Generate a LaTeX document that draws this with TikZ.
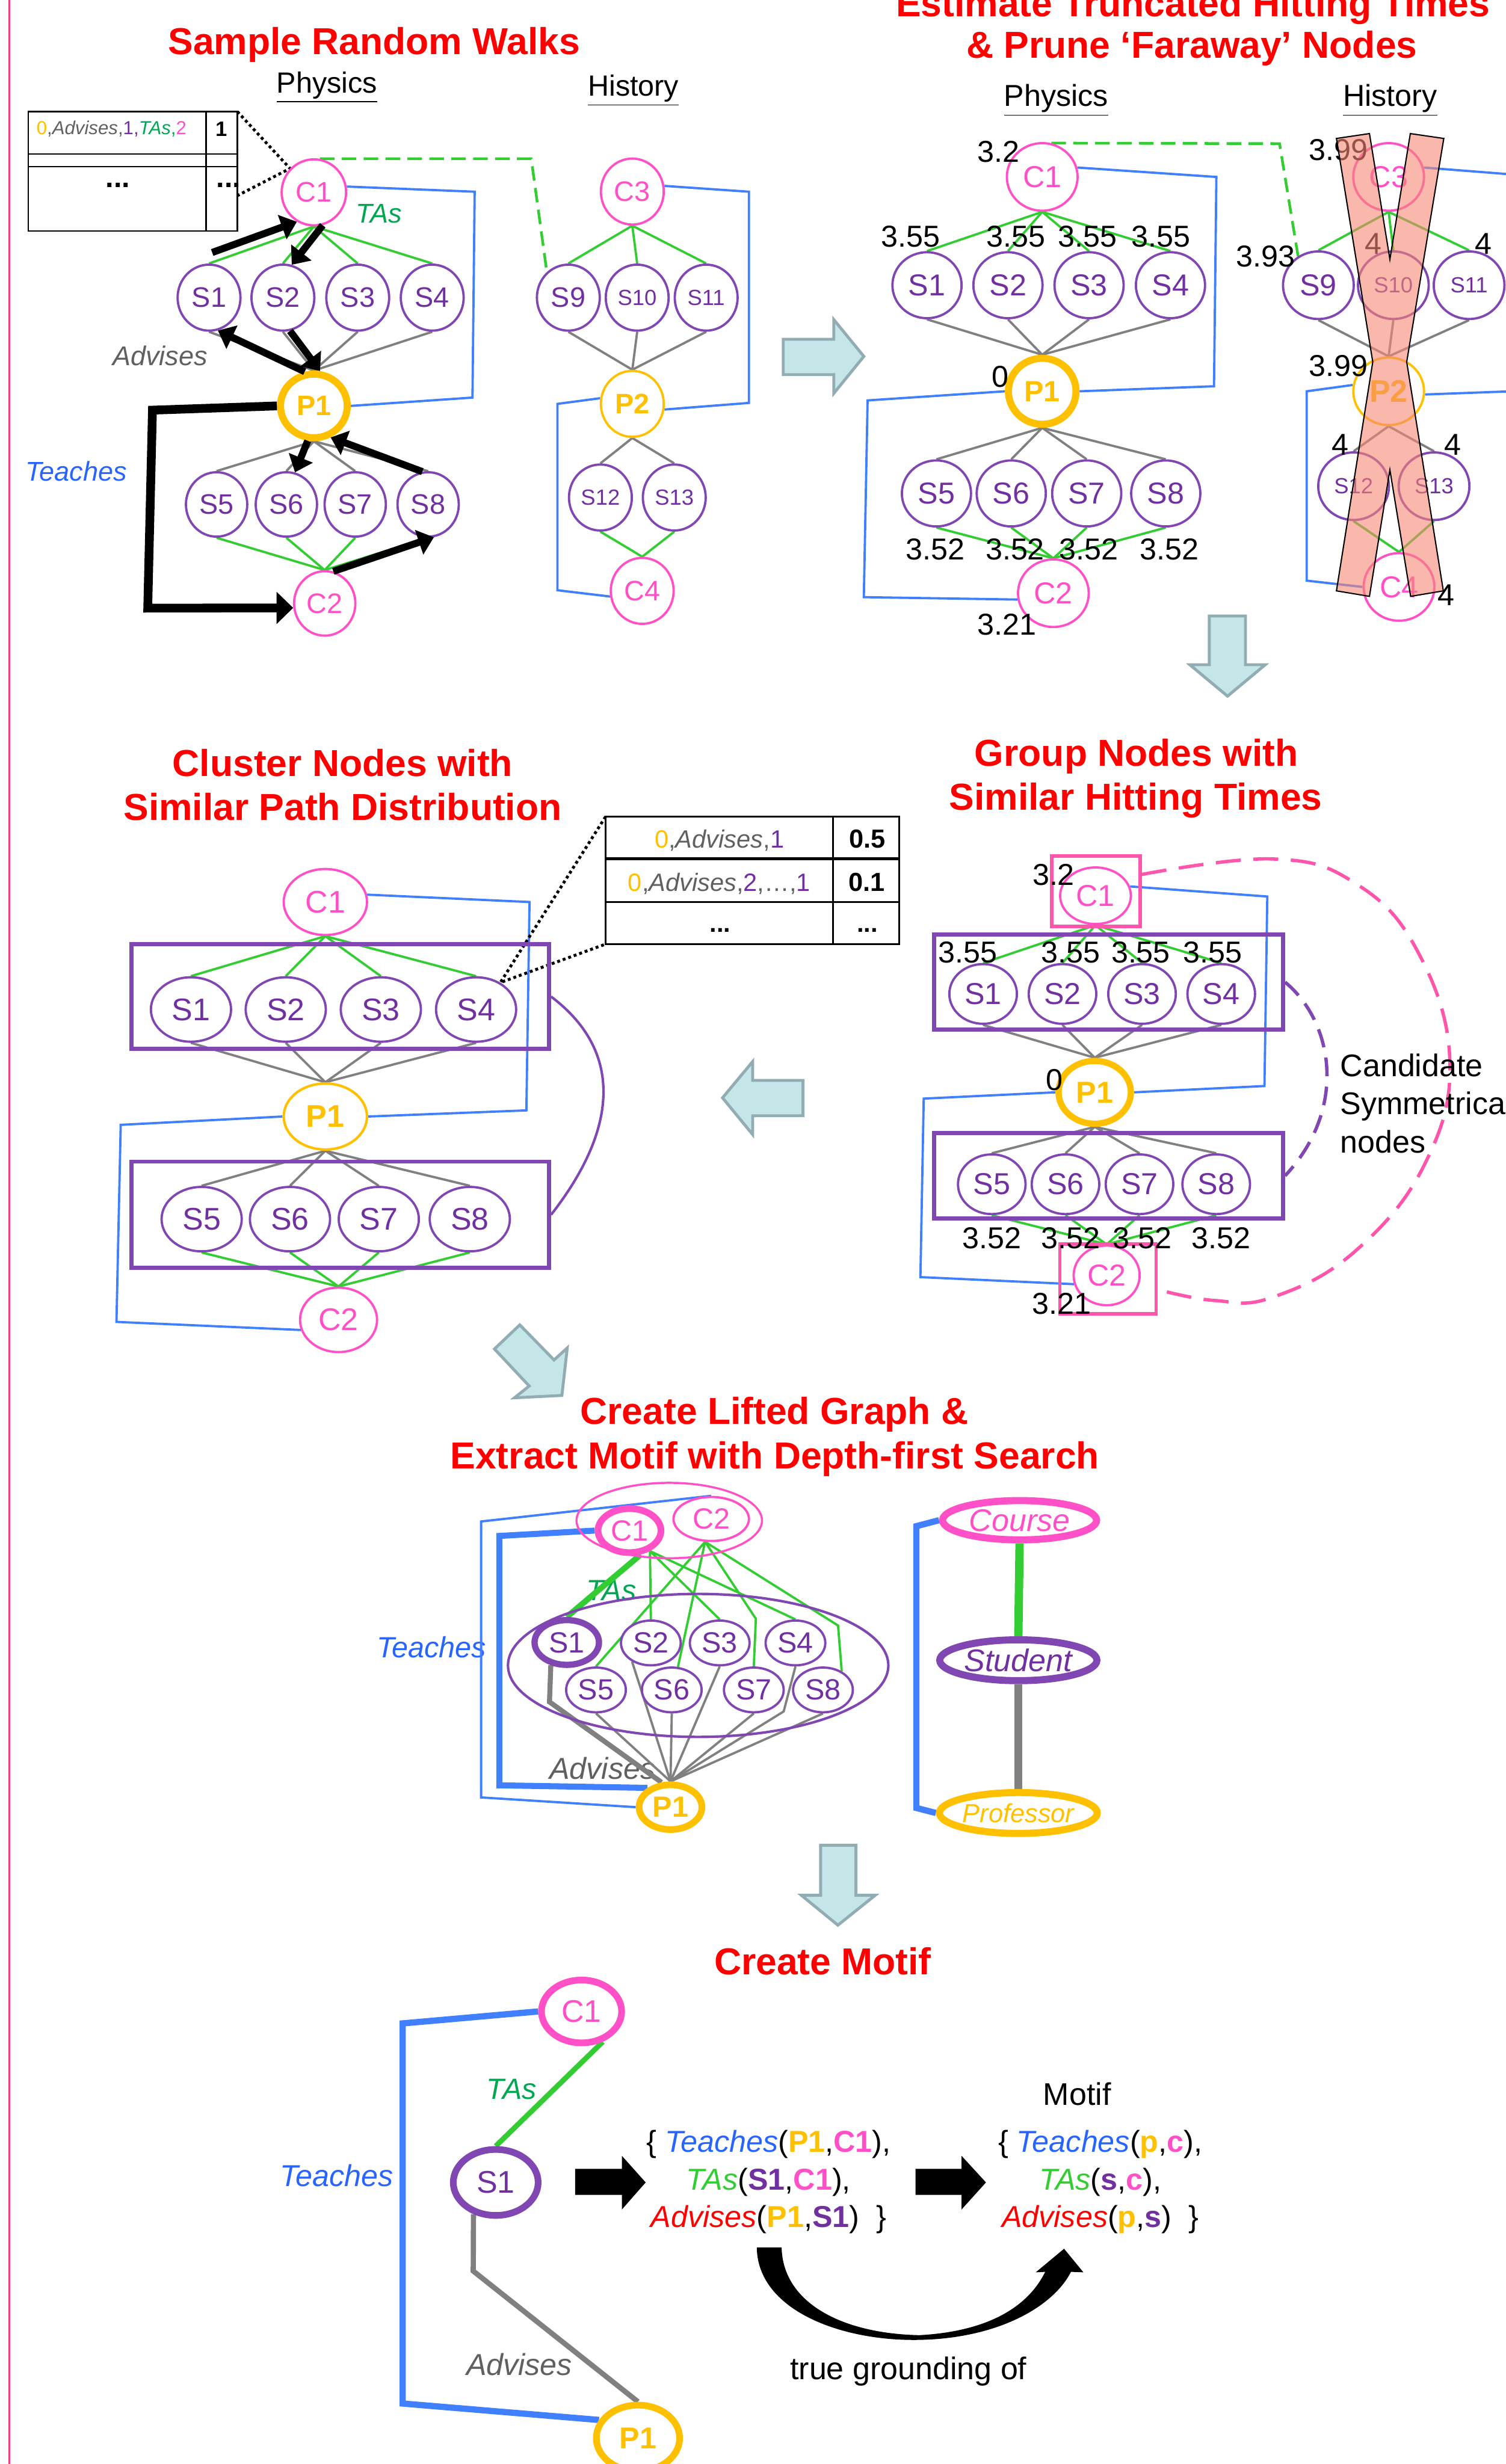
\documentclass[tikz,border=0pt]{standalone}
\usepackage{fontspec}
\setmainfont{Liberation Sans}
\usepackage{xcolor}
\usepackage{tikz}
\usetikzlibrary{
  positioning,
  arrows.meta,
  shapes.geometric,
  calc,
  backgrounds
}

\definecolor{pinkC}{RGB}{255,80,200}
\definecolor{pinkB}{RGB}{255,85,170}
\definecolor{purpC}{RGB}{128,70,178}
\definecolor{purpT}{RGB}{112,48,160}
\definecolor{yelC}{RGB}{255,192,0}
\definecolor{grnC}{RGB}{51,204,51}
\definecolor{grnT}{RGB}{0,166,81}
\definecolor{grayC}{RGB}{128,128,128}
\definecolor{grayT}{RGB}{96,96,96}
\definecolor{bluC}{RGB}{64,128,255}
\definecolor{bluT}{RGB}{40,100,255}
\definecolor{redT}{RGB}{255,0,0}
\definecolor{arrF}{RGB}{197,230,232}
\definecolor{arrD}{RGB}{145,172,178}
\definecolor{salmonC}{RGB}{247,135,115}
\definecolor{edgeP}{RGB}{250,60,130}

\newcommand{\fsz}[1]{\fontsize{#1}{#1}\selectfont}

\tikzset{
  sz/.style 2 args={minimum width=#1*0.7534pt, minimum height=#2*0.7534pt},
  base node/.style={ellipse, fill=white, inner sep=0pt, line width=1.1pt},
  cnode/.style={base node, draw=pinkC, text=pinkC, font=\fsz{13.5}},
  snode/.style={base node, draw=purpC, text=purpT, font=\fsz{13.5}},
  pnode/.style={base node, draw=yelC, text=yelC, font=\fsz{13.5}\bfseries},
  tas/.style={draw=grnC, line width=1.1pt},
  adv/.style={draw=grayC, line width=1.1pt},
  tch/.style={draw=bluC, line width=1.1pt},
  ptitle/.style={text=redT, font=\fsz{18}\bfseries, anchor=base, inner sep=0pt},
  subhead/.style={font=\fsz{14}, anchor=base, inner sep=0pt},
  hit/.style={font=\fsz{14.5}, inner sep=0pt},
  rel/.style={font=\fsz{13}\itshape, inner sep=0pt},
  walk/.style={line width=3.4pt, -{Triangle[length=7.5pt, width=12pt]}},
  blockarr/.style={fill=arrF, draw=arrD, line width=1.4pt, line join=miter},
  groupbox/.style={draw=purpC, line width=2pt, inner sep=0pt},
  pinkbox/.style={draw=pinkB, line width=1.6pt, inner sep=0pt},
  zoomline/.style={line width=1.4pt, dash pattern=on 1.4pt off 1.4pt},
}

\begin{document}
\begin{tikzpicture}[x=0.2648mm, y=-0.2648mm, >=Stealth]
    \useasboundingbox (0,0) rectangle (958,1568);
    \draw[edgeP, line width=0.8pt] (6,0) -- (6,1568);

    % ===== 1. Sample Random Walks =====
    \node[ptitle] (wTitle) at (238,34.5) {Sample Random Walks};
    \node[subhead] (wPhys) at (208,59) {\underline{Physics}};
    \node[subhead] (wHist) at (403,61) {\underline{History}};

    \node[cnode, sz={41}{42}] (wC1) at (199.7,122.4) {C1};
    \foreach \n/\x in {1/133,2/180,3/227.6,4/275}
        \node[snode, sz={40}{42}] (wS\n) at (\x,189.4) {S\n};
    \node[pnode, line width=3.4pt, sz={42.5}{40.5}] (wP1) at (199.7,258.3) {P1};
    \foreach \n/\x in {5/137.8,6/182.2,7/226,8/272.4}
        \node[snode, sz={39}{41}] (wS\n) at (\x,321) {S\n};
    \node[cnode, sz={39}{41}] (wC2) at (206.6,384) {C2};

    \node[cnode, sz={40}{42}] (wC3) at (402.3,121.9) {C3};
    \foreach \n/\x/\f in {9/361.6/13.5,10/405.4/10.5,11/449.3/10.5}
        \node[snode, sz={40}{42}, font=\fsz{\f}] (wS\n) at (\x,189.4) {S\n};
    \node[pnode, sz={40}{42}] (wP2) at (402.3,257) {P2};
    \foreach \n/\x in {12/382,13/429}
        \node[snode, sz={40}{42}, font=\fsz{10.5}] (wS\n) at (\x,316.6) {S\n};
    \node[cnode, sz={40}{42}] (wC4) at (408.6,376) {C4};

    % 路径表
    \draw[line width=0.8pt] (18,71) rectangle (151,147);
    \draw[line width=0.8pt] (131,71) -- (131,147) (18,98) -- (151,98) (18,106) -- (151,106);
    \node[anchor=west, inner sep=0pt, font=\fsz{9}] (wRow) at (23,82)
        {\textcolor{yelC}{0}\textcolor{grayT}{,\textit{Advises},}\textcolor{purpT}{1,}\textcolor{grnT}{\textit{TAs},}\textcolor{pinkC}{2}};
    \node[inner sep=0pt, font=\fsz{10}\bfseries] (wProb) at (141,82) {1};
    \node[inner sep=0pt, font=\fsz{14}\bfseries] (wDotsA) at (75,118) {...};
    \node[inner sep=0pt, font=\fsz{14}\bfseries] (wDotsB) at (145.5,118) {...};
    \coordinate (wTabNE) at (151,71);
    \coordinate (wTabE) at (151,124.5);

    % ===== 2. Hitting Times =====
    \node[ptitle] (hTitleA) at (759,10.6) {Estimate Truncated Hitting Times};
    \node[ptitle] (hTitleB) at (758.3,37) {\& Prune ‘Faraway’ Nodes};
    \node[subhead, font=\fsz{14.5}] (hPhys) at (672,67.5) {\underline{Physics}};
    \node[subhead, font=\fsz{14.5}] (hHist) at (884.5,67.5) {\underline{History}};

    \node[cnode, sz={45}{43}, font=\fsz{14.5}] (hC1) at (663.1,112.6) {C1};
    \foreach \n/\x in {1/589.8,2/641.3,3/692.9,4/744.7}
        \node[snode, sz={44}{42}, font=\fsz{14.5}] (hS\n) at (\x,181.5) {S\n};
    \node[pnode, line width=3.4pt, sz={43}{42}, font=\fsz{14}\bfseries] (hP1) at (663.1,249) {P1};
    \foreach \n/\x in {5/595.8,6/643.4,7/691.4,8/741.7}
        \node[snode, sz={44}{42}, font=\fsz{14.5}] (hS\n) at (\x,314) {S\n};
    \node[cnode, sz={45}{43}, font=\fsz{14.5}] (hC2) at (670.2,377.5) {C2};

    \node[cnode, sz={45}{43}, font=\fsz{14.5}] (hC3) at (883.5,112.6) {C3};
    \node[snode, sz={45}{43}, font=\fsz{14.5}] (hS9) at (838.8,181.5) {S9};
    \node[snode, sz={45}{43}, font=\fsz{10.5}] (hS10) at (886.5,181.5) {S10};
    \node[snode, sz={45}{43}, font=\fsz{10.5}] (hS11) at (934.7,181.5) {S11};
    \node[pnode, sz={45}{43}, font=\fsz{15}\bfseries] (hP2) at (883.5,249) {P2};
    \node[snode, sz={45}{43}, font=\fsz{10.5}] (hS12) at (861.2,309.4) {S12};
    \node[snode, sz={45}{43}, font=\fsz{10.5}] (hS13) at (912.4,309.4) {S13};
    \node[cnode, sz={45}{43}, font=\fsz{14.5}] (hC4) at (890.1,373.5) {C4};

    % ===== 3. Cluster Nodes =====
    \node[ptitle] (cTitleA) at (218,494) {Cluster Nodes with};
    \node[ptitle] (cTitleB) at (218,521.8) {Similar Path Distribution};

    \node[cnode, sz={53}{42}, font=\fsz{15}] (cC1) at (207,574) {C1};
    \foreach \n/\x in {1/121.5,2/181.8,3/242.3,4/302.9}
        \node[snode, sz={51}{41}, font=\fsz{15}] (cS\n) at (\x,642.4) {S\n};
    \node[pnode, line width=1.2pt, sz={53}{42}, font=\fsz{15}\bfseries] (cP1) at (207,710.5) {P1};
    \foreach \n/\x in {5/128.3,6/184.5,7/241,8/298.9}
        \node[snode, sz={51}{41}, font=\fsz{15}] (cS\n) at (\x,775.8) {S\n};
    \node[cnode, sz={49}{41}, font=\fsz{15}] (cC2) at (215.4,839.9) {C2};
    \node[groupbox, sz={265.8}{66.8}] (cBoxA) at (216.4,634.2) {};
    \node[groupbox, sz={265.8}{67.6}] (cBoxB) at (216.4,773) {};
    \draw[purpC, line width=1.2pt] (cBoxA.east) .. controls (398,670) and (392,720) .. (cBoxB.east);

    % 路径分布表
    \draw[line width=0.9pt] (385.3,519.7) rectangle (572.1,600.8);
    \draw[line width=0.9pt] (530,519.7) -- (530,600.8) (385.3,574) -- (572.1,574);
    \draw[line width=1.6pt] (385.3,546.4) -- (572.1,546.4);
    \node[anchor=base, inner sep=0pt, font=\fsz{12}] (cRowA) at (457.7,539.5)
        {\textcolor{yelC}{0}\textcolor{grayT}{,\textit{Advises},}\textcolor{purpT}{1}};
    \node[anchor=base, inner sep=0pt, font=\fsz{12}] (cRowB) at (457.6,567.2)
        {\textcolor{yelC}{0}\textcolor{grayT}{,\textit{Advises},}\textcolor{purpT}{2}\textcolor{grayT}{,\ldots,}\textcolor{purpT}{1}};
    \node[anchor=base, inner sep=0pt, font=\fsz{12.5}\bfseries] (cProbA) at (551.9,539.5) {0.5};
    \node[anchor=base, inner sep=0pt, font=\fsz{12.5}\bfseries] (cProbB) at (551.3,567.2) {0.1};
    \node[inner sep=0pt, font=\fsz{12}\bfseries] (cDotsA) at (458.3,592) {...};
    \node[inner sep=0pt, font=\fsz{12}\bfseries] (cDotsB) at (551.9,592) {...};
    \coordinate (cTabNW) at (385.3,519.7);
    \coordinate (cTabSW) at (385.3,600.8);

    % ===== 4. Group Nodes =====
    \node[ptitle] (gTitleA) at (723,487.5) {Group Nodes with};
    \node[ptitle] (gTitleB) at (722.6,515.5) {Similar Hitting Times};

    \node[cnode, sz={45}{36}, font=\fsz{14.5}] (gC1) at (697,570) {C1};
    \foreach \n/\x in {1/625.5,2/676,3/726.6,4/777}
        \node[snode, sz={43}{38}, font=\fsz{14.5}] (gS\n) at (\x,632.5) {S\n};
    \node[pnode, line width=3pt, sz={46}{40}, font=\fsz{14.5}\bfseries] (gP1) at (696.5,695.1) {P1};
    \foreach \n/\x in {5/631,6/677.9,7/725,8/773.8}
        \node[snode, sz={43}{38}, font=\fsz{14.5}] (gS\n) at (\x,753.6) {S\n};
    \node[cnode, sz={42}{38}, font=\fsz{14.5}] (gC2) at (704.1,811.6) {C2};
    \node[pinkbox, sz={56.3}{44.8}] (gBoxC1) at (697.2,567.1) {};
    \node[pinkbox, sz={61.3}{44.4}] (gBoxC2) at (704.9,813.9) {};
    \node[groupbox, sz={222}{60.4}] (gBoxA) at (705.3,625) {};
    \node[groupbox, sz={222}{54.5}] (gBoxB) at (705.3,748.2) {};
    \draw[pinkB, line width=1.6pt, dash pattern=on 12pt off 6pt]
        plot[smooth, tension=0.7] coordinates {(gBoxC1.20) (809.7,546.6) (862.2,562) (901.5,604.6) (922.4,673.8) (906.7,740.3) (862.2,796.2) (809.7,825.5) (773,827.6) (gBoxC2.-12)};
    \draw[purpC, line width=1.6pt, dash pattern=on 9pt off 5pt]
        (gBoxA.east) .. controls (848,650) and (858,705) .. (gBoxB.east);
    \node[anchor=west, align=left, inner sep=0pt, font=\fontsize{15}{18.4}\selectfont] (gCand) at (852.5,702.2)
        {Candidate\\Symmetrical\\nodes};

    % ===== 5. Lifted Graph =====
    \node[ptitle] (lTitleA) at (492.7,906.4) {Create Lifted Graph \&};
    \node[ptitle] (lTitleB) at (493,934.5) {Extract Motif with Depth-first Search};

    \node[draw=pinkC, line width=1pt, ellipse, sz={118}{48}] (lCgrp) at (425.8,967.6) {};
    \node[draw=purpC, line width=1.2pt, ellipse, sz={242}{91}] (lSgrp) at (444.2,1059.8) {};
    \node[cnode, sz={48}{28}, font=\fsz{14}] (lC2) at (452.5,966.6) {C2};
    \node[cnode, line width=3.2pt, sz={40}{28}, font=\fsz{14}] (lC1) at (400.5,974) {C1};
    \node[snode, line width=3pt, sz={41}{28.5}, font=\fsz{14}] (lS1) at (360.6,1045.2) {S1};
    \foreach \n/\x in {2/414.1,3/457.9,4/506.1}
        \node[snode, sz={38}{28.5}, font=\fsz{14}] (lS\n) at (\x,1045.5) {S\n};
    \foreach \n/\x in {5/379.2,6/427.4,7/479.6,8/523.6}
        \node[snode, sz={38}{28.5}, font=\fsz{14}] (lS\n) at (\x,1075.4) {S\n};
    \node[pnode, line width=3.2pt, sz={40}{28.5}, font=\fsz{14}\bfseries] (lP1) at (426.6,1150) {P1};

    \node[cnode, line width=3.4pt, sz={98}{25}, font=\fsz{15}\itshape] (lCourse) at (648.7,967.4) {Course};
    \node[snode, line width=3.4pt, sz={100}{26}, font=\fsz{15}\itshape] (lStudent) at (647.9,1056.5) {Student};
    \node[pnode, line width=3.4pt, sz={100}{26}, font=\fsz{12.5}\itshape] (lProf) at (647.9,1153.7) {Professor};

    % ===== 6. Create Motif =====
    \node[ptitle] (mTitle) at (523.5,1256.7) {Create Motif};
    \node[cnode, line width=3.2pt, sz={51}{40}, font=\fsz{15}] (mC1) at (370,1280) {C1};
    \node[snode, line width=3.2pt, sz={54}{42}, font=\fsz{15}] (mS1) at (315.4,1388.8) {S1};
    \node[pnode, line width=3.2pt, sz={53}{42}, font=\fsz{14.5}\bfseries] (mP1) at (405.9,1551.5) {P1};

    \node[align=center, inner sep=0pt, font=\fontsize{14.5}{18}\selectfont] (mGround) at (489,1388.5)
        {\{ \textcolor{bluT}{\textit{Teaches}}(\textcolor{yelC}{\textbf{P1}},\textcolor{pinkC}{\textbf{C1}}),\\
         \textcolor{grnC}{\textit{TAs}}(\textcolor{purpT}{\textbf{S1}},\textcolor{pinkC}{\textbf{C1}}),\\
         \textcolor{redT}{\textit{Advises}}(\textcolor{yelC}{\textbf{P1}},\textcolor{purpT}{\textbf{S1}})~~\}};
    \node[align=center, inner sep=0pt, font=\fontsize{14.5}{18}\selectfont] (mMotif) at (700,1388.5)
        {\{ \textcolor{bluT}{\textit{Teaches}}(\textcolor{yelC}{\textbf{p}},\textcolor{pinkC}{\textbf{c}}),\\
         \textcolor{grnC}{\textit{TAs}}(\textcolor{purpT}{\textbf{s}},\textcolor{pinkC}{\textbf{c}}),\\
         \textcolor{redT}{\textit{Advises}}(\textcolor{yelC}{\textbf{p}},\textcolor{purpT}{\textbf{s}})~~\}};
    \node[inner sep=0pt, font=\fsz{15}] (mMotifHd) at (685.3,1332.6) {Motif};
    \node[inner sep=0pt, font=\fsz{15}] (mTrue) at (578,1509) {true grounding of};

    % ===== 边 =====
    \begin{pgfonlayer}{background}
        \node[rel, text=grnT] (wTAs) at (241,136) {TAs};
        \node[rel, text=grayT] (wAdv) at (101.8,226.5) {Advises};
        \node[rel, text=bluT] (wTch) at (48.5,300) {Teaches};
        \node[rel, text=grnT, font=\fsz{14}\itshape] (lTAs) at (389,1012) {TAs};
        \node[rel, text=bluT, font=\fsz{14}\itshape] (lTch) at (274.5,1048) {Teaches};
        \node[rel, text=grayT, font=\fsz{14.5}\itshape] (lAdv) at (383.3,1125.3) {Advises};
        \node[rel, text=grnT, font=\fsz{14}\itshape] (mTAs) at (325.5,1329.6) {TAs};
        \node[rel, text=bluT, font=\fsz{14.5}\itshape] (mTch) at (214.2,1384.5) {Teaches};
        \node[rel, text=grayT, font=\fsz{14.5}\itshape] (mAdv) at (330.4,1504.7) {Advises};

        % 面板一
        \foreach \n in {1,...,4} {\draw[tas] (wC1.south) -- (wS\n.north); \draw[adv] (wS\n.south) -- (wP1.north);}
        \foreach \n in {5,...,8} {\draw[adv] (wP1.south) -- (wS\n.north); \draw[tas] (wS\n.south) -- (wC2.north);}
        \foreach \n in {9,10,11} {\draw[tas] (wC3.south) -- (wS\n.north); \draw[adv] (wS\n.south) -- (wP2.north);}
        \foreach \n in {12,13} {\draw[adv] (wP2.south) -- (wS\n.north); \draw[tas] (wS\n.south) -- (wC4.north);}
        \draw[tch] (wC1.10) -- (302,122) -- (300.6,253) -- (wP1.east);
        \draw[tch] (wC3.10) -- (476.5,122) -- (476.5,256.4) -- (wP2.-10);
        \draw[tch] (wP2.170) -- (354.7,257) -- (354.7,375.6) -- (wC4.-170);
        \draw[tas, line width=1.3pt, dash pattern=on 7pt off 3.5pt] (wC1.80) -- (338,101) -- (wS9.130);
        \draw[zoomline] (wTabNE) -- (wC1.135) -- (wTabE);

        % 面板二
        \foreach \n in {1,...,4} {\draw[tas] (hC1.south) -- (hS\n.north); \draw[adv] (hS\n.south) -- (hP1.north);}
        \foreach \n in {5,...,8} {\draw[adv] (hP1.south) -- (hS\n.north); \draw[tas] (hS\n.south) -- (hC2.north);}
        \foreach \n in {9,10,11} {\draw[tas] (hC3.south) -- (hS\n.north); \draw[adv] (hS\n.south) -- (hP2.north);}
        \foreach \n in {12,13} {\draw[adv] (hP2.south) -- (hS\n.north); \draw[tas] (hS\n.south) -- (hC4.north);}
        \draw[tch] (hC1.15) -- (773.9,112.6) -- (772.4,245.8) -- (hP1.east);
        \draw[tch] (hP1.west) -- (552,254.8) -- (549.6,380) -- (hC2.-170);
        \draw[tch] (hC3.15) -- (962,111);
        \draw[tch] (hP2.-5) -- (962,249);
        \draw[tch] (hP2.170) -- (831.4,249) -- (831.4,369.5) -- (hC4.west);
        \draw[tas, line width=1.3pt, dash pattern=on 7pt off 3.5pt] (hC1.75) -- (814.1,91.4) -- (hS9.125);

        % 面板三
        \foreach \n in {1,...,4} {\draw[tas] (cC1.south) -- (cS\n.north); \draw[adv] (cS\n.south) -- (cP1.north);}
        \foreach \n in {5,...,8} {\draw[adv] (cP1.south) -- (cS\n.north); \draw[tas] (cS\n.south) -- (cC2.north);}
        \draw[tch] (cC1.10) -- (336.9,574) -- (334.9,706.6) -- (cP1.east);
        \draw[tch] (cP1.west) -- (76.8,715.8) -- (74.1,841.2) -- (cC2.-165);
        \draw[zoomline] (cTabNW) -- (cS4.48) -- (cTabSW);

        % 面板四
        \foreach \n in {1,...,4} {\draw[tas] (gC1.south) -- (gS\n.north); \draw[adv] (gS\n.south) -- (gP1.north);}
        \foreach \n in {5,...,8} {\draw[adv] (gP1.south) -- (gS\n.north); \draw[tas] (gS\n.south) -- (gC2.north);}
        \draw[tch] (gC1.15) -- (806.3,570.5) -- (804.5,691.1) -- (gP1.east);
        \draw[tch] (gP1.west) -- (587.7,699.1) -- (585.6,812.7) -- (gC2.-165);

        % 面板五
        \draw[tas, line width=2.8pt] (lC1.-65) -- (lS1.north);
        \foreach \n in {2,3,4} \draw[tas] (lC1.-45) -- (lS\n.north);
        \draw[tas] (lC2.-105) -- (lS5.north);
        \draw[tas] (lC2.-105) -- (lS6.75);
        \draw[tas] (lC2.-105) -- (480.9,1030.1) -- (lS7.north);
        \draw[tas] (lC2.-105) -- (533.2,1034.4) -- (lS8.45);
        \draw[adv, line width=2.4pt] (lS1.-125) -- (349.6,1083) -- (lP1.110);
        \draw[adv] (lS2.-135) -- (lP1.north);
        \draw[adv] (lS3.south) -- (lP1.north);
        \draw[adv] (lS4.south) -- (498.6,1089.1) -- (lP1.north);
        \foreach \n in {5,...,8} \draw[adv] (lS\n.south) -- (lP1.north);
        \draw[tch] (lC2.north) -- (306.1,968.2) -- (306.1,1143.8) -- (lP1.west);
        \draw[tch, line width=2.9pt] (lC1.west) -- (317.7,977.4) -- (317.7,1136.1) -- (lP1.140);
        \draw[tas, line width=4pt] (lCourse.south) -- (lStudent.north);
        \draw[adv, line width=4pt] (lStudent.south) -- (lProf.north);
        \draw[tch, line width=3pt] (lCourse.west) -- (583,971.2) -- (583,1150.5) -- (lProf.west);

        % 面板六
        \draw[tas, line width=2.5pt] (mC1.-55) -- (mS1.north);
        \draw[adv, line width=2.5pt] (mS1.-125) -- (301.1,1445.2) -- (mP1.north);
        \draw[tch, line width=3pt] (mC1.west) -- (256.2,1287.6) -- (256.2,1529.5) -- (mP1.155);
    \end{pgfonlayer}

    % 随机游走
    \draw[walk] ($(wS1.north)+(2,-7)$) -- (wC1.240);
    \draw[walk] (wC1.285) -- (wS2.75);
    \draw[walk] (wS2.-78) -- (wP1.80);
    \draw[walk] (wP1.105) -- (wS1.-75);
    \draw[walk] (wP1.-100) -- (wS6.75);
    \draw[walk] (wS8.100) -- (wP1.-62);
    \draw[walk] (wC2.75) -- (wS8.-80);
    \draw[walk, line width=4.2pt, -{Triangle[length=8pt, width=15pt]}] (wP1.west) -- (97,261) -- (94,387) -- (wC2.-172);

    % 击中时间
    \node[hit] (hT0) at (635.4,96.7) {3.2};
    \foreach \x [count=\i] in {579.4,646.4,692,738.7}
        \node[hit] (hTa\i) at (\x,150.5) {3.55};
    \node[hit] (hTp) at (636.3,239.7) {0};
    \foreach \x [count=\i] in {595.2,645.8,692.6,744.1}
        \node[hit] (hTb\i) at (\x,349.7) {3.52};
    \node[hit] (hTc) at (640.7,397.4) {3.21};
    \node[hit] (hTd) at (851.4,95.4) {3.99};
    \node[hit] (hTe) at (805.2,163) {3.93};
    \node[hit] (hTf) at (873.7,155) {4};
    \node[hit] (hTg) at (943.7,155) {4};
    \node[hit] (hTh) at (851.4,233) {3.99};
    \node[hit] (hTi) at (852.8,283) {4};
    \node[hit] (hTj) at (924.3,283) {4};
    \node[hit] (hTk) at (919.9,378.8) {4};

    \node[hit] (gT0) at (670.3,556.7) {3.2};
    \foreach \x [count=\i] in {615.8,681.3,725.8,771.7}
        \node[hit] (gTa\i) at (\x,606) {3.55};
    \node[hit] (gTp) at (670.8,687.1) {0};
    \foreach \x [count=\i] in {631,681.3,726.6,777}
        \node[hit] (gTb\i) at (\x,787.7) {3.52};
    \node[hit] (gTc) at (675.5,829.5) {3.21};

    % 剪枝
    \filldraw[fill=salmonC, fill opacity=0.6, draw=black, line width=0.6pt, line join=miter]
        (850.3,88.1) -- (871.3,85.0) -- (884.3,165.0) -- (897.3,85.0) -- (918.6,88.1) -- (895.0,230.3)
        -- (918.3,376.0) -- (897.5,379.5) -- (884.3,299.0) -- (871.3,379.5) -- (850.3,376.0) -- (873.4,230.3) -- cycle;

    % 流程箭头
    \filldraw[blockarr] (498.3,215.9) -- (530.5,215.9) -- (530.5,203.4) -- (549.6,226.8) -- (530.5,250.3) -- (530.5,238.4) -- (498.3,238.4) -- cycle;
    \filldraw[blockarr] (769.4,392) -- (792.4,392) -- (792.4,423) -- (805,423) -- (781,443) -- (757,423) -- (769.4,423) -- cycle;
    \filldraw[blockarr] (510.9,687.5) -- (478.9,687.5) -- (478.9,675.5) -- (459.7,698.6) -- (478.9,722) -- (478.9,710) -- (510.9,710) -- cycle;
    \filldraw[blockarr] (330.7,843.1) -- (352.5,865.4) -- (360.9,857.8) -- (357.5,888.0) -- (327.3,889.5) -- (336.7,882.0) -- (314.6,858.4) -- cycle;
    \filldraw[blockarr] (522.1,1174.2) -- (544.6,1174.2) -- (544.6,1206.1) -- (556.8,1206.1) -- (533.1,1225.1) -- (509.9,1206.1) -- (522.1,1206.1) -- cycle;

    % 黑色箭头
    \fill (365.9,1380.2) -- (395.7,1380.2) -- (395.7,1371.9) -- (410.8,1388.8) -- (395.7,1406) -- (395.7,1396.7) -- (365.9,1396.7) -- cycle;
    \fill (582.5,1380.2) -- (611.8,1380.2) -- (611.8,1371.9) -- (627.3,1388.8) -- (611.8,1406) -- (611.8,1396.7) -- (582.5,1396.7) -- cycle;
    \fill (481.5,1430.2) .. controls (482,1470) and (535,1490) .. (585,1489)
        .. controls (635,1488) and (670,1468) .. (681.4,1445.7) -- (689.3,1446) -- (677,1431) -- (659,1446)
        -- (665,1445.7) .. controls (652,1472) and (622,1484) .. (585,1486)
        .. controls (535,1485) and (498,1465) .. (497.3,1430.2) -- cycle;
\end{tikzpicture}
\end{document}
